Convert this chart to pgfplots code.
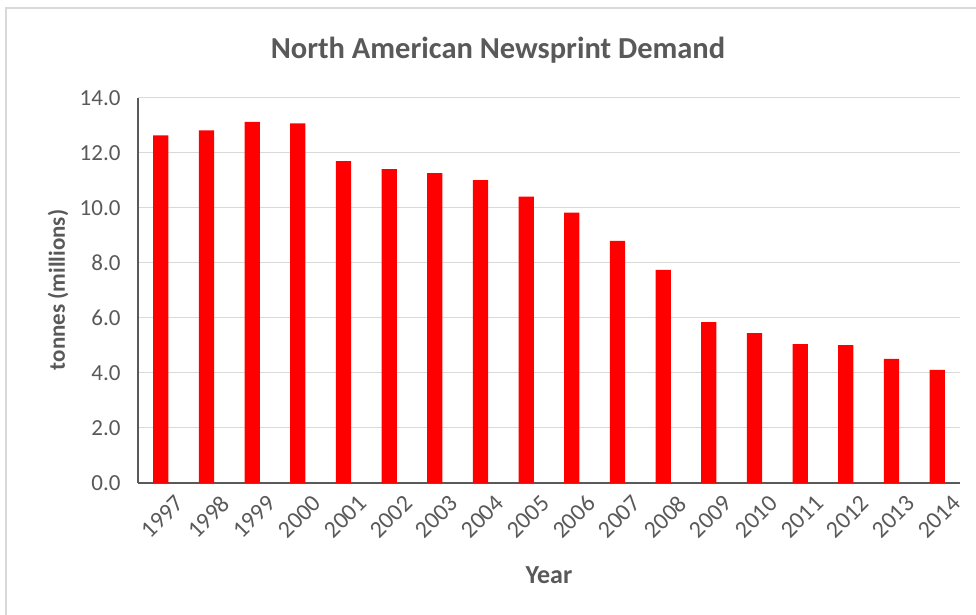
\documentclass[border=0pt]{standalone}
\usepackage{fontspec}
\setmainfont{Carlito}
\usepackage{pgfplots}
\pgfplotsset{compat=1.18}
\definecolor{txtgray}{HTML}{595959}
\definecolor{gridgray}{HTML}{D9D9D9}
\definecolor{framegray}{HTML}{D9D9D9}
\begin{document}
\begin{tikzpicture}
\useasboundingbox (0,0) rectangle (976pt,615pt);
\draw[framegray, line width=1.5pt] (6pt,-20pt) -- (6pt,607pt) -- (1000pt,607pt);
\begin{axis}[
  at={(138pt,132pt)}, anchor=south west,
  scale only axis, width=822pt, height=385pt,
  xmin=-0.5, xmax=17.5, ymin=0, ymax=14,
  ytick={0,2,...,14},
  xtick={0,...,17},
  xticklabels={1997,1998,1999,2000,2001,2002,2003,2004,2005,2006,2007,2008,2009,2010,2011,2012,2013,2014},
  x tick label style={rotate=45, anchor=north east, font=\fontsize{24}{26}\selectfont, text=txtgray, inner sep=0pt, yshift=-17pt, xshift=2pt},
  y tick label style={font=\fontsize{23}{25}\selectfont, text=txtgray, xshift=-14pt,
    /pgf/number format/fixed, /pgf/number format/fixed zerofill, /pgf/number format/precision=1},
  /pgf/number format/assume math mode=true,
  major tick length=0pt,
  axis x line*=bottom, axis y line*=left,
  axis line style={draw=txtgray, line width=1.2pt},
  ymajorgrids, grid style={gridgray, line width=1pt},
  x axis line style={-}, y axis line style={-},
]
\addplot[ybar, bar width=15.3pt, fill=red, draw=none] coordinates {
(0,12.64) (1,12.82) (2,13.13) (3,13.08) (4,11.70) (5,11.41) (6,11.27) (7,11.01)
(8,10.41) (9,9.83) (10,8.80) (11,7.75) (12,5.85) (13,5.45) (14,5.05) (15,5.01)
(16,4.51) (17,4.11)};
\end{axis}
\node[text=txtgray, font=\fontsize{30.5}{33}\selectfont\bfseries] at (498pt,565pt) {North American Newsprint Demand};
\node[text=txtgray, font=\fontsize{23}{25}\selectfont\bfseries, rotate=90] at (58pt,325pt) {tonnes (millions)};
\node[text=txtgray, font=\fontsize{26}{28}\selectfont\bfseries] at (549pt,40pt) {Year};
\end{tikzpicture}
\end{document}
